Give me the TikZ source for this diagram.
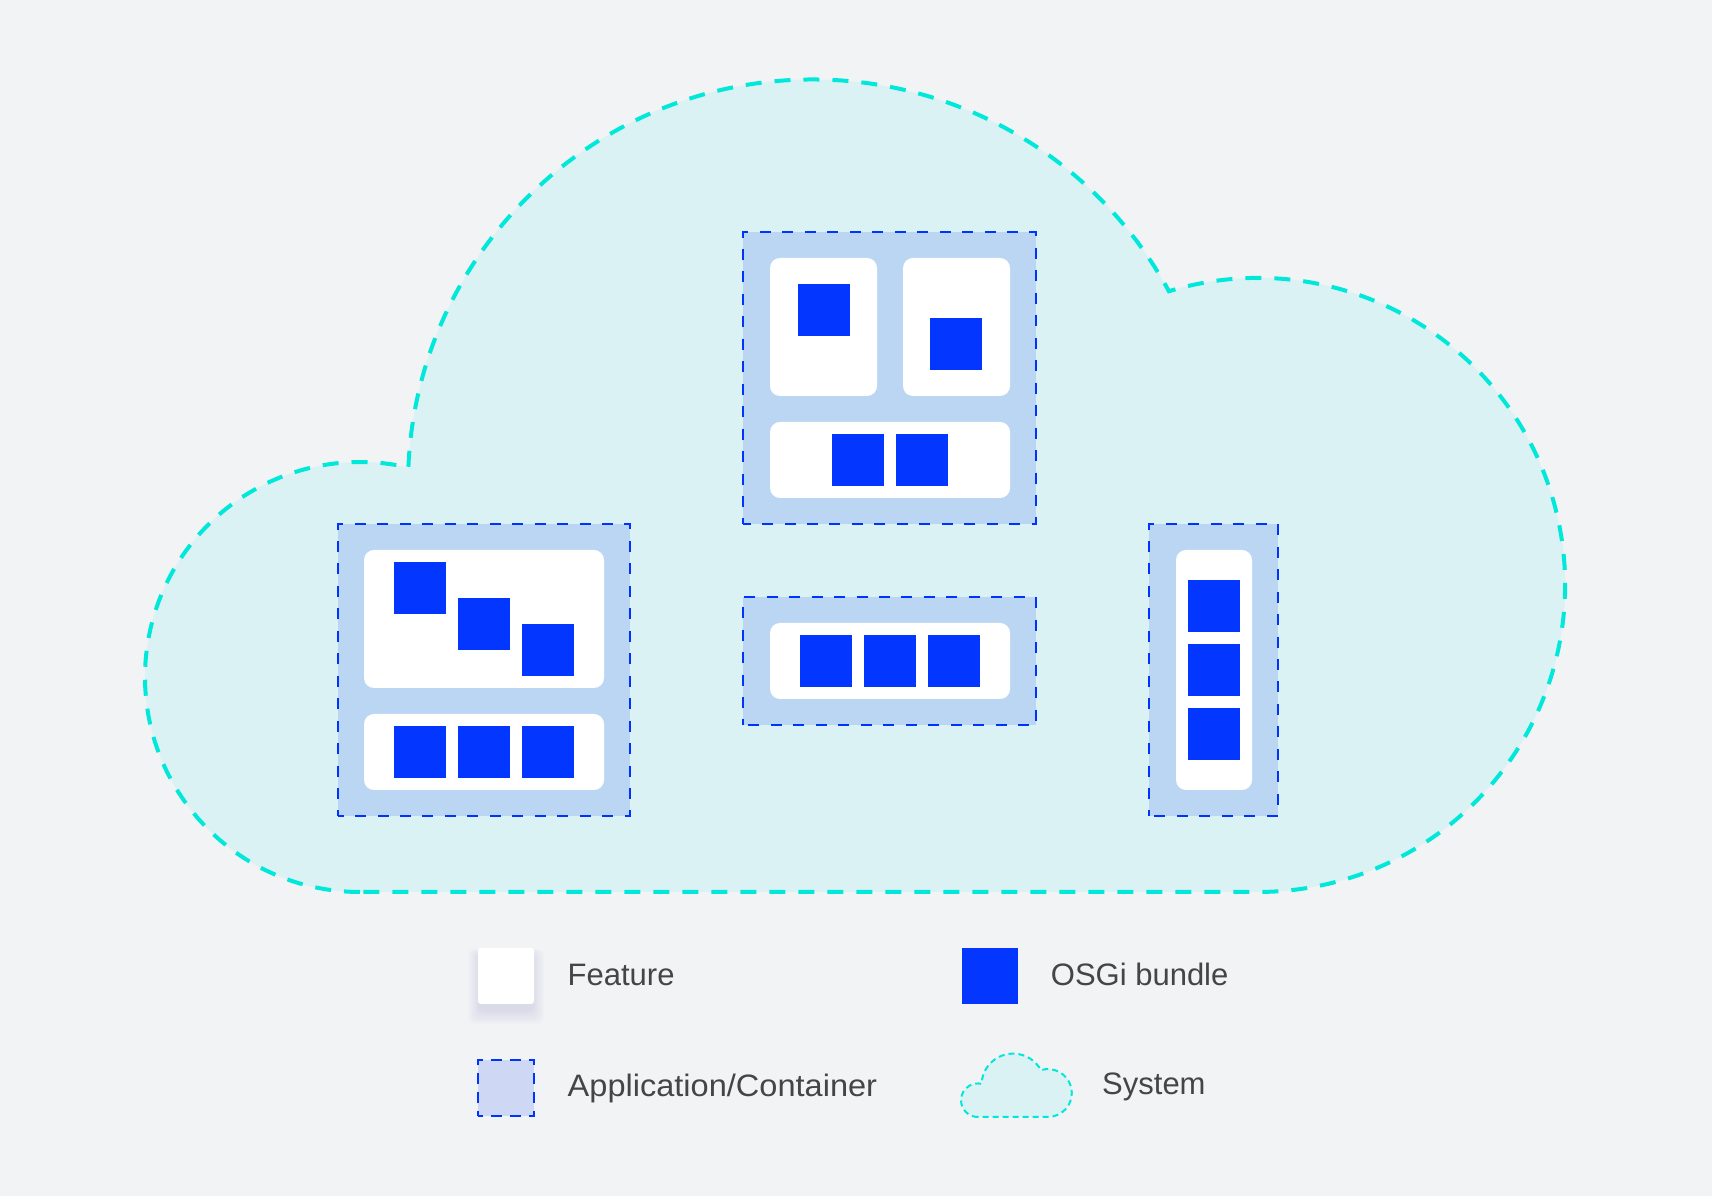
\documentclass[tikz,border=0pt]{standalone}
\usepackage{fontspec}
\setmainfont{Liberation Sans}
\definecolor{bg}{HTML}{F2F3F5}
\definecolor{cloudfill}{HTML}{DAF2F3}
\definecolor{cloudline}{HTML}{00E8DA}
\definecolor{contfill}{HTML}{BBD6F3}
\definecolor{blueline}{HTML}{0033FF}
\definecolor{bundlec}{HTML}{0336FF}
\definecolor{appfill}{HTML}{CED8F5}
\definecolor{txt}{HTML}{454545}
\definecolor{shadowc}{HTML}{A9ADE6}
\tikzset{
  container/.style={fill=contfill, draw=blueline, line width=2pt, dash pattern=on 11pt off 11.46pt, dash phase=5.5pt},
  feature/.style={fill=white, rounded corners=10pt},
  bundle/.style={fill=bundlec},
  cloudpath/.style={insert path={(360,304) arc[start angle=270,end angle=77,radius=215] arc[start angle=177.6,end angle=28.5,radius=405] arc[start angle=106.9,end angle=-90,radius=307] -- cycle}},
  bigcloud/.style={fill=cloudfill, draw=cloudline, line width=4pt, dash pattern=on 16pt off 13pt},
  smallcloud/.style={fill=cloudfill, draw=cloudline, line width=2pt, dash pattern=on 6pt off 4pt},
  legendtext/.style={anchor=base west, inner sep=0pt, text=txt, font=\fontsize{31}{37}\selectfont},
}
\begin{document}
\begin{tikzpicture}[x=1pt,y=1pt]
\fill[bg] (0,0) rectangle (1712,1196);
\useasboundingbox (0,0) rectangle (1712,1196);
% system cloud
\draw[bigcloud, cloudpath];
% left container
\draw[container] (338,380) rectangle (630,672);
\fill[feature] (364,508) rectangle (604,646);
\fill[bundle] (394,582) rectangle (446,634);
\fill[bundle] (458,546) rectangle (510,598);
\fill[bundle] (522,520) rectangle (574,572);
\fill[feature] (364,406) rectangle (604,482);
\fill[bundle] (394,418) rectangle (446,470);
\fill[bundle] (458,418) rectangle (510,470);
\fill[bundle] (522,418) rectangle (574,470);
% top container
\draw[container] (743,672) rectangle (1036,964);
\fill[feature] (770,800) rectangle (877,938);
\fill[feature] (903,800) rectangle (1010,938);
\fill[bundle] (798,860) rectangle (850,912);
\fill[bundle] (930,826) rectangle (982,878);
\fill[feature] (770,698) rectangle (1010,774);
\fill[bundle] (832,710) rectangle (884,762);
\fill[bundle] (896,710) rectangle (948,762);
% middle container
\draw[container] (743,471) rectangle (1036,599);
\fill[feature] (770,497) rectangle (1010,573);
\fill[bundle] (800,509) rectangle (852,561);
\fill[bundle] (864,509) rectangle (916,561);
\fill[bundle] (928,509) rectangle (980,561);
% right container
\draw[container] (1149,380) rectangle (1278,672);
\fill[feature] (1176,406) rectangle (1252,646);
\fill[bundle] (1188,564) rectangle (1240,616);
\fill[bundle] (1188,500) rectangle (1240,552);
\fill[bundle] (1188,436) rectangle (1240,488);
% legend
\foreach \i in {1,...,12}
  \fill[shadowc, opacity=0.025, rounded corners=6pt] (480-\i,186-1.2*\i) rectangle (532+\i,242+0.4*\i);
\fill[white, rounded corners=3pt] (478,192) rectangle (534,248);
\node[legendtext] (lfeat) at (567.5,210.3) {Feature};
\fill[bundlec] (962,192) rectangle (1018,248);
\node[legendtext] (lbundle) at (1050.7,210.3) {OSGi bundle};
\draw[fill=appfill, draw=blueline, line width=2.5pt, dash pattern=on 10.67pt off 8pt, dash phase=5.33pt] (478,80) rectangle (534,136);
\node[legendtext, xscale=1.05] (lapp) at (567.5,99.3) {Application/Container};
\begin{scope}[shift={(949.7,55.3)}, scale=0.078]
  \draw[smallcloud, cloudpath];
\end{scope}
\node[legendtext] (lsys) at (1102,101) {System};
\end{tikzpicture}
\end{document}
